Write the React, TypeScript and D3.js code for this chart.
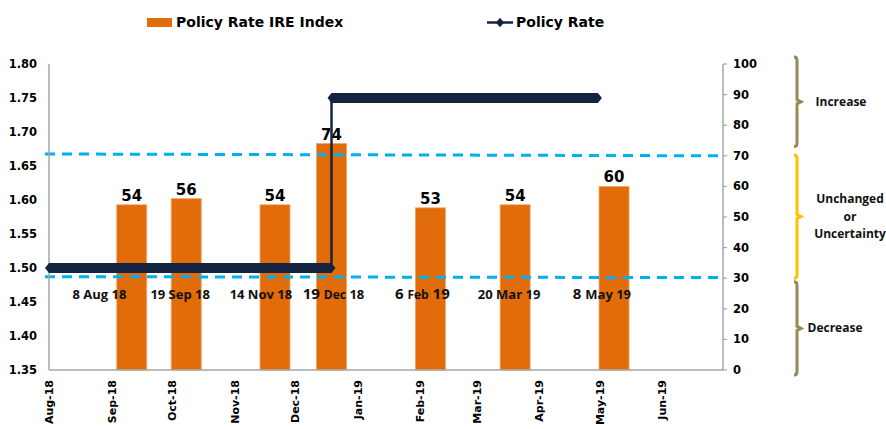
import React, { useEffect, useRef } from "react";
import * as d3 from "d3";

// IRE index bars (right axis) - survey dates and values
const barDates = ["2018-09-11", "2018-10-08", "2018-11-21", "2018-12-19", "2019-02-06", "2019-03-20", "2019-05-08"];
const barValues = [54, 56, 54, 74, 53, 54, 60];

// Policy rate (left axis) as a step series
const policyDates = ["2018-08-01", "2018-12-19", "2018-12-19", "2019-04-30"];
const policyRates = [1.5, 1.5, 1.75, 1.75];

// MPC meeting labels under the line
const meetingLabelDates = ["2018-08-26", "2018-10-05", "2018-11-14", "2018-12-20", "2019-02-02", "2019-03-17", "2019-05-02"];
const meetingLabels = [
  [["8 Aug 18", 13]],
  [["19 Sep 18", 13]],
  [["14 Nov 18", 13]],
  [["19 ", 15], ["Dec", 12], [" 18", 13]],
  [["6 ", 15], ["Feb", 12], [" 19", 15]],
  [["20 Mar 19", 13]],
  [["8 ", 15], ["May 19", 13]],
];

const monthTicks = ["2018-08-01", "2018-09-01", "2018-10-01", "2018-11-01", "2018-12-01", "2019-01-01",
  "2019-02-01", "2019-03-01", "2019-04-01", "2019-05-01", "2019-06-01"];
const leftTicks = [1.35, 1.4, 1.45, 1.5, 1.55, 1.6, 1.65, 1.7, 1.75, 1.8];
const rightTicks = [0, 10, 20, 30, 40, 50, 60, 70, 80, 90, 100];

// threshold lines on the index scale (start value, end value)
const thresholds = [[70.6, 70], [30.5, 30.2]];

// brace zones on the index scale
const zoneNames = [["Increase"], ["Unchanged", "or", "Uncertainty"], ["Decrease"]];
const zoneRanges = [[102.3, 73], [70.3, 30], [28.8, -1.6]];
const zoneColors = ["#948a54", "#ffc000", "#948a54"];

const parse = d3.timeParse("%Y-%m-%d");

const App: React.FC = () => {
  const ref = useRef<SVGSVGElement | null>(null);

  useEffect(() => {
    const svg = d3.select(ref.current);
    svg.selectAll("*").remove();

    const x = d3.scaleTime()
      .domain([parse("2018-08-01")!, parse("2019-07-01")!])
      .range([49, 723]);
    const yL = d3.scaleLinear().domain([1.35, 1.8]).range([370, 64]);
    const yR = d3.scaleLinear().domain([0, 100]).range([370, 64]);

    const axisCol = "#a6a6a6";
    const navy = "#14243f";
    const bold = "'DejaVu Sans', Verdana, sans-serif";
    const side = "'Open Sans', sans-serif";

    // bars
    const barW = 30;
    const g = svg.append("g");
    g.selectAll("rect.bar")
      .data(barValues)
      .join("rect")
      .attr("x", (d, i) => x(parse(barDates[i])!) - barW / 2)
      .attr("y", d => yR(d))
      .attr("width", barW)
      .attr("height", d => yR(0) - yR(d))
      .attr("fill", "#e36c0a")
      .attr("stroke", "#f2a66a")
      .attr("stroke-width", 0.8);

    g.selectAll("text.val")
      .data(barValues)
      .join("text")
      .attr("x", (d, i) => x(parse(barDates[i])!))
      .attr("y", d => yR(d) - 4)
      .attr("text-anchor", "middle")
      .style("font", `bold 15px ${bold}`)
      .attr("fill", "#000")
      .text(d => d);

    // dashed threshold lines
    thresholds.forEach(([a, b]) => {
      svg.append("line")
        .attr("x1", 45).attr("x2", 719)
        .attr("y1", yR(a)).attr("y2", yR(b))
        .attr("stroke", "#00b0f0")
        .attr("stroke-width", 3)
        .attr("stroke-dasharray", "10,7");
    });

    // axes
    svg.append("line").attr("x1", 49).attr("x2", 49).attr("y1", 64).attr("y2", 370)
      .attr("stroke", axisCol).attr("stroke-width", 1.5);
    svg.append("line").attr("x1", 723).attr("x2", 723).attr("y1", 64).attr("y2", 370)
      .attr("stroke", axisCol).attr("stroke-width", 1.5);
    svg.append("line").attr("x1", 49).attr("x2", 723).attr("y1", 370).attr("y2", 370)
      .attr("stroke", axisCol).attr("stroke-width", 1.5);

    svg.append("g").selectAll("text")
      .data(leftTicks)
      .join("text")
      .attr("x", 37)
      .attr("y", d => yL(d) + 4)
      .attr("text-anchor", "end")
      .style("font", `bold 11.5px ${bold}`)
      .text(d => d3.format(".2f")(d));

    const rt = svg.append("g");
    rt.selectAll("line")
      .data(rightTicks)
      .join("line")
      .attr("x1", 723).attr("x2", 727)
      .attr("y1", d => yR(d)).attr("y2", d => yR(d))
      .attr("stroke", axisCol).attr("stroke-width", 1.2);
    rt.selectAll("text")
      .data(rightTicks)
      .join("text")
      .attr("x", 733)
      .attr("y", d => yR(d) + 4)
      .style("font", `bold 11.5px ${bold}`)
      .text(d => d);

    svg.append("g").selectAll("text")
      .data(monthTicks)
      .join("text")
      .attr("transform", d => `translate(${x(parse(d)!) + 4},380) rotate(-90)`)
      .attr("text-anchor", "end")
      .style("font", `bold 11px ${bold}`)
      .text(d => d3.timeFormat("%b-%y")(parse(d)!));

    // policy rate step line
    const pts = policyDates.map((d, i) => ({ x: x(parse(d)!), y: yL(policyRates[i]) }));
    for (let i = 1; i < pts.length; i++) {
      const a = pts[i - 1], b = pts[i];
      if (a.y === b.y) {
        const h = 5, tip = 4;
        svg.append("polygon")
          .attr("points", [[a.x - tip, a.y], [a.x, a.y - h], [b.x, b.y - h], [b.x + tip, b.y], [b.x, b.y + h], [a.x, a.y + h]]
            .map(p => p.join(",")).join(" "))
          .attr("fill", navy);
      } else {
        svg.append("line")
          .attr("x1", a.x).attr("x2", b.x).attr("y1", a.y).attr("y2", b.y)
          .attr("stroke", navy).attr("stroke-width", 2.5);
      }
    }

    // meeting labels
    const ml = svg.append("g");
    meetingLabels.forEach((parts, i) => {
      const t = ml.append("text")
        .attr("x", x(parse(meetingLabelDates[i])!))
        .attr("y", 299)
        .attr("text-anchor", "middle")
        .style("font-family", side)
        .style("font-weight", 700)
        .attr("fill", "#111");
      parts.forEach(([s, size]) => {
        t.append("tspan").style("font-size", `${size}px`).text(s as string);
      });
    });

    // braces on the right
    const bx = 797;
    zoneRanges.forEach(([top, bot], i) => {
      const y0 = yR(top), y1 = yR(bot), ym = (y0 + y1) / 2;
      const p = d3.path();
      p.moveTo(bx - 3, y0);
      p.quadraticCurveTo(bx, y0, bx, y0 + 3);
      p.lineTo(bx, ym - 2);
      p.lineTo(bx + 4, ym);
      p.lineTo(bx, ym + 2);
      p.lineTo(bx, y1 - 3);
      p.quadraticCurveTo(bx, y1, bx - 3, y1);
      svg.append("path")
        .attr("d", p.toString())
        .attr("fill", "none")
        .attr("stroke", zoneColors[i])
        .attr("stroke-width", 3);

      const lines = zoneNames[i];
      const cx = lines.length > 1 ? 850 : i === 0 ? 841 : 835;
      lines.forEach((s, j) => {
        svg.append("text")
          .attr("x", cx)
          .attr("y", ym + 4 + (j - (lines.length - 1) / 2) * 17.5)
          .attr("text-anchor", "middle")
          .style("font-family", side)
          .style("font-weight", 700)
          .style("font-size", "12px")
          .attr("fill", "#111")
          .text(s);
      });
    });

    // legend
    const lg = svg.append("g");
    lg.append("rect").attr("x", 147).attr("y", 18).attr("width", 25).attr("height", 9).attr("fill", "#e36c0a");
    lg.append("text").attr("x", 176).attr("y", 27)
      .style("font", `bold 14px ${bold}`).text("Policy Rate IRE Index");
    lg.append("line").attr("x1", 487).attr("x2", 513).attr("y1", 22.5).attr("y2", 22.5)
      .attr("stroke", navy).attr("stroke-width", 2.5);
    lg.append("path")
      .attr("d", d3.symbol(d3.symbolDiamond, 40)())
      .attr("transform", "translate(500,22.5) scale(1.2,0.8)")
      .attr("fill", navy);
    lg.append("text").attr("x", 516).attr("y", 27)
      .style("font", `bold 14px ${bold}`).text("Policy Rate");
  }, []);

  return (
    <svg
      ref={ref}
      width={886}
      height={429}
      style={{ position: "absolute", left: 0, top: 0, background: "#fff" }}
    />
  );
};

export default App;
